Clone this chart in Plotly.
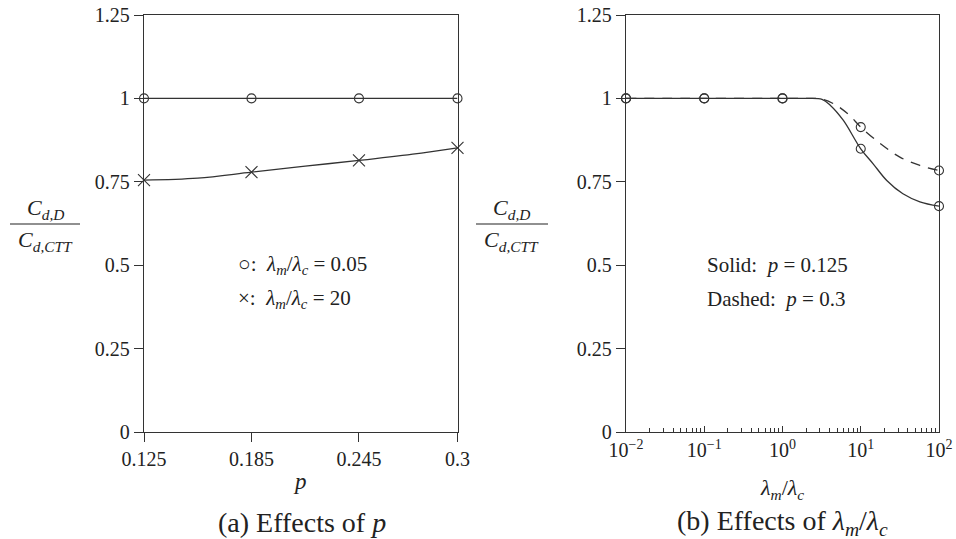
import plotly.graph_objects as go

# ---------------- data ----------------
# panel (a): effects of p
p_marks = [0.125, 0.185, 0.245, 0.3]
circ_a = [1.0, 1.0, 1.0, 1.0]
cross_a = [0.755, 0.779, 0.814, 0.852]
p_line = [0.125, 0.155, 0.185, 0.215, 0.245, 0.275, 0.3]
cross_line = [0.755, 0.761, 0.779, 0.797, 0.814, 0.833, 0.852]

# panel (b): effects of lambda_m / lambda_c
lam_marks = [0.01, 0.1, 1, 10, 100]
solid_marks = [1.0, 1.0, 1.0, 0.849, 0.677]
dashed_marks = [1.0, 1.0, 1.0, 0.914, 0.784]
lam_solid = [0.01, 0.1, 1, 2, 3.2, 4.1, 6, 10, 14.4, 21.5, 34.6, 57, 100]
solid_line = [1.0, 1.0, 1.0, 1.0, 0.997, 0.979, 0.934, 0.849, 0.804, 0.754, 0.714, 0.690, 0.677]
lam_dashed = [0.01, 0.1, 1, 2, 3.2, 4.9, 7.2, 10, 17.9, 31.6, 57, 100]
dashed_line = [1.0, 1.0, 1.0, 1.0, 0.998, 0.979, 0.949, 0.914, 0.864, 0.824, 0.799, 0.784]

y_ticks = [0, 0.25, 0.5, 0.75, 1.0, 1.25]
y_ticktext = ["0", "0.25", "0.5", "0.75", "1", "1.25"]
x_ticks_a = [0.125, 0.185, 0.245, 0.3]
x_ticktext_a = ["0.125", "0.185", "0.245", "0.3"]
x_ticks_b = [0.01, 0.1, 1, 10, 100]
x_ticktext_b = ["10<sup>−2</sup>", "10<sup>−1</sup>", "10<sup>0</sup>", "10<sup>1</sup>", "10<sup>2</sup>"]

W, H = 956, 539
FONT = "Liberation Serif, Times New Roman, serif"
INK = "#222222"
LINE = "#333333"

fig = go.Figure()

# panel (a)
fig.add_trace(go.Scatter(x=p_marks, y=circ_a, mode="lines+markers",
                         line=dict(color=LINE, width=1.3),
                         marker=dict(symbol="circle-open", size=9, color=LINE, line=dict(width=1.1)),
                         xaxis="x", yaxis="y", cliponaxis=False, showlegend=False))
fig.add_trace(go.Scatter(x=p_line, y=cross_line, mode="lines",
                         line=dict(color=LINE, width=1.3, shape="spline"),
                         xaxis="x", yaxis="y", showlegend=False))
fig.add_trace(go.Scatter(x=p_marks, y=cross_a, mode="markers",
                         marker=dict(symbol="x-thin-open", size=12, color=LINE, line=dict(width=1.1, color=LINE)),
                         xaxis="x", yaxis="y", cliponaxis=False, showlegend=False))

# panel (b)
fig.add_trace(go.Scatter(x=lam_solid, y=solid_line, mode="lines",
                         line=dict(color=LINE, width=1.3, shape="spline"),
                         xaxis="x2", yaxis="y2", showlegend=False))
fig.add_trace(go.Scatter(x=lam_dashed, y=dashed_line, mode="lines",
                         line=dict(color=LINE, width=1.3, shape="spline", dash="10px,8px"),
                         xaxis="x2", yaxis="y2", showlegend=False))
fig.add_trace(go.Scatter(x=lam_marks, y=solid_marks, mode="markers",
                         marker=dict(symbol="circle-open", size=9, color=LINE, line=dict(width=1.1)),
                         xaxis="x2", yaxis="y2", cliponaxis=False, showlegend=False))
fig.add_trace(go.Scatter(x=lam_marks, y=dashed_marks, mode="markers",
                         marker=dict(symbol="circle-open", size=9, color=LINE, line=dict(width=1.1)),
                         xaxis="x2", yaxis="y2", cliponaxis=False, showlegend=False))

y_dom = [1 - 432 / H, 1 - 15 / H]
axis_common = dict(showline=True, mirror=True, linecolor=LINE, linewidth=1.3,
                   showgrid=False, zeroline=False, tickcolor=LINE, automargin=False,
                   tickfont=dict(family=FONT, size=20, color=INK))

fig.update_layout(
    template="none",
    width=W, height=H,
    margin=dict(l=0, r=0, t=0, b=0, pad=0, autoexpand=False),
    paper_bgcolor="white", plot_bgcolor="white",
    font=dict(family=FONT, color=INK),
    xaxis=dict(domain=[144 / W, 457.5 / W], range=[0.125, 0.3],
               tickmode="array", tickvals=x_ticks_a, ticktext=x_ticktext_a,
               ticks="outside", ticklen=9, anchor="y", **axis_common),
    yaxis=dict(domain=y_dom, range=[0, 1.25],
               tickmode="array", tickvals=y_ticks, ticktext=y_ticktext,
               ticks="outside", ticklen=9, anchor="x", **axis_common),
    xaxis2=dict(domain=[626 / W, 939 / W], type="log", range=[-2, 2],
                tickmode="array", tickvals=x_ticks_b, ticktext=x_ticktext_b,
                ticks="inside", ticklen=6, anchor="y2",
                minor=dict(ticks="inside", ticklen=4, tickcolor=LINE,
                           tickmode="array",
                           tickvals=[m * 10 ** e for e in range(-2, 2) for m in range(2, 10)]),
                **axis_common),
    yaxis2=dict(domain=y_dom, range=[0, 1.25],
                tickmode="array", tickvals=y_ticks, ticktext=y_ticktext,
                ticks="outside", ticklen=9, anchor="x2", **axis_common),
)


def px(x, y):
    return x / W, 1 - y / H


annots = []


def add_text(x, y, text, size=20, xanchor="center"):
    xx, yy = px(x, y)
    annots.append(dict(x=xx, y=yy, xref="paper", yref="paper", text=text,
                       showarrow=False, xanchor=xanchor, yanchor="middle",
                       font=dict(family=FONT, size=size, color=INK)))


# axis titles
add_text(300, 481, "<i>p</i>", size=23)
add_text(782, 489, "<i>λ<sub>m</sub></i>/<i>λ<sub>c</sub></i>", size=22)
# captions
add_text(302, 522, "(a) Effects of <i>p</i>", size=28)
add_text(782, 522, "(b) Effects of <i>λ<sub>m</sub></i>/<i>λ<sub>c</sub></i>", size=28)
# y labels (fractions)
FRAC_Y = 224
for cx in (45, 512):
    add_text(cx, FRAC_Y - 15, "<i>C<sub>d,D</sub></i>", size=22)
    add_text(cx, FRAC_Y + 17, "<i>C<sub>d,CTT</sub></i>", size=22)
# in-plot notes
add_text(236, 265, "○:  <i>λ<sub>m</sub></i>/<i>λ<sub>c</sub></i> = 0.05", size=21, xanchor="left")
add_text(236, 299, "×:  <i>λ<sub>m</sub></i>/<i>λ<sub>c</sub></i> = 20", size=21, xanchor="left")
add_text(705, 265, "Solid:  <i>p</i> = 0.125", size=21, xanchor="left")
add_text(705, 299, "Dashed:  <i>p</i> = 0.3", size=21, xanchor="left")

shapes = []
for x0, x1 in ((10, 80), (476, 548)):
    a0, b0 = px(x0, FRAC_Y)
    a1, _ = px(x1, FRAC_Y)
    shapes.append(dict(type="line", xref="paper", yref="paper", x0=a0, x1=a1, y0=b0, y1=b0,
                       line=dict(color=INK, width=1.2)))

fig.update_layout(annotations=annots, shapes=shapes)

fig.write_html("out.html")
